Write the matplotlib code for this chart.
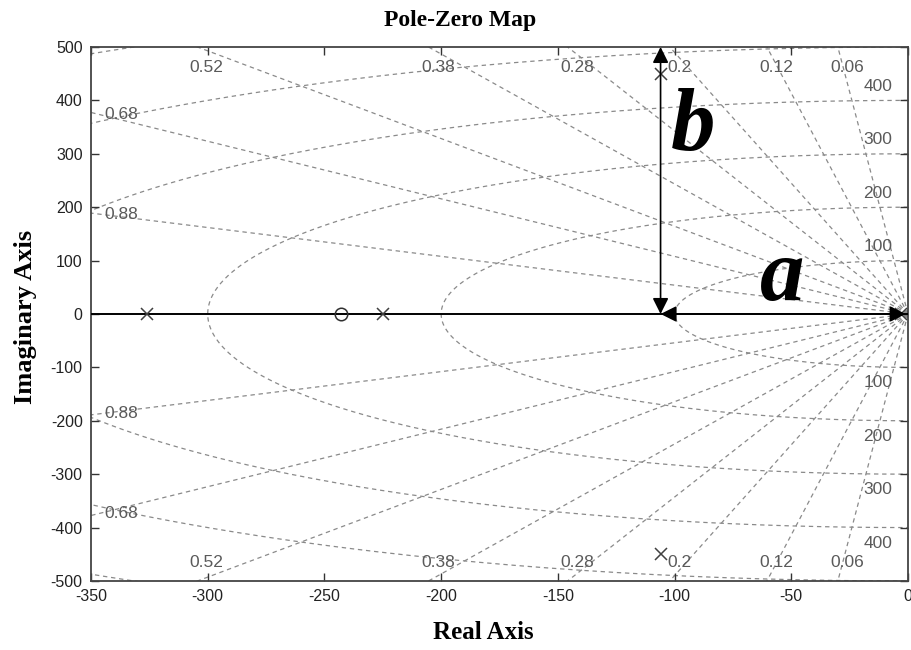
import numpy as np
import matplotlib
matplotlib.use("Agg")
import matplotlib.pyplot as plt

# --- system data ---
pole_re = [-326.0, -225.0, -106.0, -106.0, -3.0]
pole_im = [0.0, 0.0, 450.0, -450.0, 0.0]
zero_re = [-243.0]
zero_im = [0.0]

# s-grid: damping ratios and natural frequencies
zeta_vals = [0.06, 0.12, 0.2, 0.28, 0.38, 0.52, 0.68, 0.88]
zeta_text = ["0.06", "0.12", "0.2", "0.28", "0.38", "0.52", "0.68", "0.88"]
wn_vals = [100, 200, 300, 400, 500, 600]
wn_labeled = [100, 200, 300, 400]

x_ticks = [-350, -300, -250, -200, -150, -100, -50, 0]
y_ticks = [-500, -400, -300, -200, -100, 0, 100, 200, 300, 400, 500]

XMIN, XMAX = -350, 0
YMIN, YMAX = -500, 500

GRID_C = "#8a8a8a"
LBL_C = "#5a5a5a"
SANS = ["Liberation Sans", "DejaVu Sans"]
SERIF = ["Liberation Serif", "DejaVu Serif"]
LBL_FS = 12.5

fig = plt.figure(figsize=(9.11, 6.5), dpi=100)
ax = fig.add_axes([0.0999, 0.1062, 0.8968, 0.8215])
ax.set_xlim(XMIN, XMAX)
ax.set_ylim(YMIN, YMAX)

dash = (0, (3.5, 3))

# constant damping rays
for z in zeta_vals:
    r = 2000.0
    xs = np.array([0.0, -r * z])
    ys = np.array([0.0, r * np.sqrt(1 - z * z)])
    ax.plot(xs, ys, color=GRID_C, lw=0.9, ls=dash, zorder=1)
    ax.plot(xs, -ys, color=GRID_C, lw=0.9, ls=dash, zorder=1)

# constant natural frequency arcs
th = np.linspace(np.pi / 2, 3 * np.pi / 2, 400)
for wn in wn_vals:
    ax.plot(wn * np.cos(th), wn * np.sin(th), color=GRID_C, lw=0.9, ls=dash, zorder=1)

# damping labels
for z, t in zip(zeta_vals, zeta_text):
    slope = np.tan(np.arccos(z))
    x_top = -YMAX / slope
    if x_top >= XMIN:
        ax.text(x_top + 4, 462, t, color=LBL_C, fontsize=LBL_FS,
                family=SANS, ha="center", va="center", zorder=2)
        ax.text(x_top + 4, -466, t, color=LBL_C, fontsize=LBL_FS,
                family=SANS, ha="center", va="center", zorder=2)
    else:
        y_edge = -XMIN * slope
        for sgn in (1, -1):
            ax.text(-337, sgn * (y_edge - 3), t, color=LBL_C, fontsize=LBL_FS,
                    family=SANS, ha="center", va="center", zorder=2)

# natural frequency labels
for wn in wn_labeled:
    ax.text(-13, wn + 26, str(wn), color=LBL_C, fontsize=LBL_FS, family=SANS,
            ha="center", va="center", zorder=2)
    ax.text(-13, -(wn + 29), str(wn), color=LBL_C, fontsize=LBL_FS, family=SANS,
            ha="center", va="center", zorder=2)

# real axis
ax.axhline(0, color="black", lw=1.4, zorder=3)

# poles and zeros
ax.plot(pole_re, pole_im, ls="none", marker="x", ms=9, mew=1.1,
        color="#404040", zorder=4)
ax.plot(zero_re, zero_im, ls="none", marker="o", ms=9, mew=1.1,
        mfc="none", mec="#303030", zorder=4)

# annotation arrows a and b
ax.annotate("", xy=(-106, 0), xytext=(-1, 0),
            arrowprops=dict(arrowstyle="<|-|>", color="black", lw=1.2,
                            mutation_scale=24, shrinkA=0, shrinkB=0), zorder=5)
ax.annotate("", xy=(-106, 500), xytext=(-106, 0),
            arrowprops=dict(arrowstyle="<|-|>", color="black", lw=1.2,
                            mutation_scale=24, shrinkA=0, shrinkB=0), zorder=5)
ax.text(-92, 307, "b", fontsize=64, family=SERIF, style="italic",
        weight="bold", ha="center", va="baseline", zorder=6)
ax.text(-54, 26, "a", fontsize=64, family=SERIF, style="italic",
        weight="bold", ha="center", va="baseline", zorder=6)

# axes styling
ax.set_xticks(x_ticks)
ax.set_yticks(y_ticks)
ax.set_xticklabels([str(v) for v in x_ticks], family=SANS, fontsize=11.5)
ax.set_yticklabels([str(v) for v in y_ticks], family=SANS, fontsize=11.5)
ax.tick_params(direction="in", length=6, width=1.0, top=True, right=True,
               colors="#333333", labelcolor="#222222", pad=6)
for sp in ax.spines.values():
    sp.set_color("#444444")
    sp.set_linewidth(1.3)

fig.text(0.505, 0.968, "Pole-Zero Map", family=SERIF, weight="bold",
         fontsize=17, ha="center", va="center")
fig.text(0.53, 0.027, "Real Axis", family=SERIF, weight="bold",
         fontsize=18, ha="center", va="center")
fig.text(0.028, 0.513, "Imaginary Axis", family=SERIF, weight="bold",
         fontsize=19, ha="center", va="center", rotation=90)

fig.savefig("out.png", dpi=100)
